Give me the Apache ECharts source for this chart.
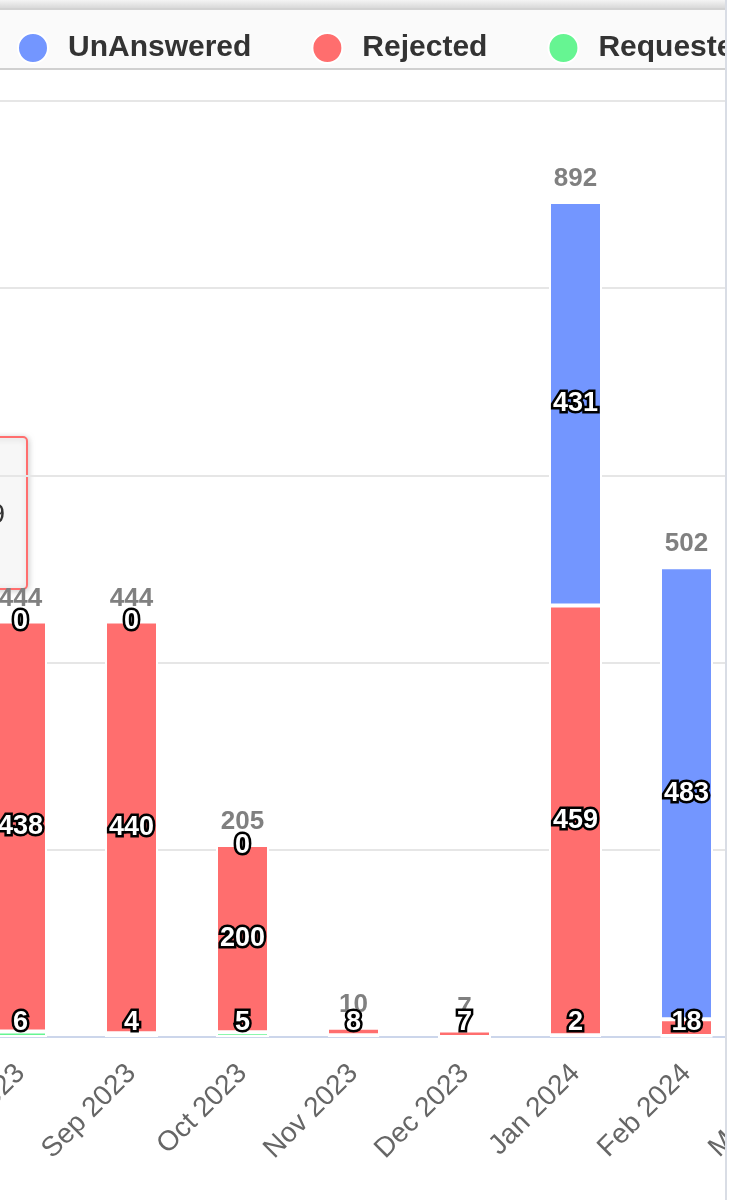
<!DOCTYPE html>
<html lang="en" style="height: 100%">
<head>
  <meta charset="utf-8">
</head>
<body style="height: 100%; margin: 0; background: #fff">
  <div id="wrap" style="position: relative; width: 725px; height: 1200px; overflow: hidden; border-right: 2px solid #d9dde5; background: #fff">
    <div id="container" style="position: absolute; left: -60px; top: 0; width: 914px; height: 1200px"></div>
  </div>

  <script type="text/javascript" src="https://fastly.jsdelivr.net/npm/echarts@6/dist/echarts.min.js"></script>
  <script type="text/javascript">
    var months = ['Aug 2023', 'Sep 2023', 'Oct 2023', 'Nov 2023', 'Dec 2023', 'Jan 2024', 'Feb 2024', 'Mar 2024'];
    var requested = [6, 4, 5, 2, 0, 2, 1, null];
    var rejected = [438, 440, 200, 8, 7, 459, 18, null];
    var unanswered = [0, 0, 0, 0, 0, 431, 483, null];
    var legendNames = ['UnAnswered', 'Rejected', 'Requested'];

    var totals = months.map(function (m, i) {
      if (unanswered[i] == null) return null;
      return unanswered[i] + rejected[i] + requested[i];
    });

    var dom = document.getElementById('container');
    var myChart = echarts.init(dom, null, { renderer: 'canvas' });

    var AXIS_Y = 1037;
    var FONT = 'Liberation Sans, Arial, sans-serif';

    // keep labels of tiny bars just above the axis, hide the ones that collide
    function labelLayout(params) {
      var r = params.labelRect;
      var cy = r.y + r.height / 2;
      var out = { hideOverlap: true };
      if (cy > AXIS_Y - 14) out.dy = AXIS_Y - 14 - cy;
      return out;
    }

    var dataLabel = {
      show: true,
      position: 'inside',
      fontFamily: FONT,
      fontSize: 27,
      fontWeight: 'bold',
      color: '#fff',
      textBorderColor: '#000',
      textBorderWidth: 5
    };

    function stackSeries(name, data, color) {
      return {
        name: name,
        type: 'bar',
        stack: 'all',
        barWidth: 53,
        barGap: '-100%',
        data: data,
        itemStyle: { color: color, borderColor: '#fff', borderWidth: 2 },
        label: dataLabel,
        labelLayout: labelLayout
      };
    }

    var option = {
      animation: false,
      color: ['#7396ff', '#ff6e6e', '#66f592'],
      legend: {
        data: legendNames,
        left: 72,
        top: 27,
        icon: 'circle',
        itemWidth: 60,
        itemHeight: 30,
        itemGap: 60,
        textStyle: { fontFamily: FONT, fontSize: 30, fontWeight: 'bold', color: '#333' }
      },
      graphic: [
        {
          type: 'rect', z: -1, silent: true,
          shape: { x: 60, y: 0, width: 725, height: 8 },
          style: { fill: new echarts.graphic.LinearGradient(0, 0, 0, 1, [
            { offset: 0, color: '#f4f4f4' }, { offset: 1, color: '#d9d9d9' }
          ]) }
        },
        { type: 'rect', z: -1, silent: true, shape: { x: 60, y: 8, width: 725, height: 2 }, style: { fill: '#d2d2d2' } },
        { type: 'rect', z: -1, silent: true, shape: { x: 60, y: 10, width: 725, height: 58 }, style: { fill: '#fafafa' } },
        { type: 'rect', z: -1, silent: true, shape: { x: 60, y: 68, width: 725, height: 2 }, style: { fill: '#d0d0d0' } },
        {
          type: 'group', z: 20, silent: true,
          children: [
            {
              type: 'rect',
              shape: { x: -40, y: 437, width: 127, height: 152, r: 4 },
              style: {
                fill: '#f7f7f7', stroke: '#ff6e6e', lineWidth: 2,
                shadowBlur: 6, shadowOffsetX: 1, shadowOffsetY: 1, shadowColor: 'rgba(0,0,0,0.18)'
              }
            },
            {
              type: 'text',
              style: { text: '9', x: 65, y: 515, align: 'right', verticalAlign: 'middle', font: '28px ' + FONT, fill: '#333' }
            }
          ]
        }
      ],
      grid: { left: 25, right: 1, top: 101, bottom: 1200 - AXIS_Y, outerBoundsMode: 'none', containLabel: false },
      xAxis: {
        type: 'category',
        data: months,
        axisLine: { lineStyle: { color: '#ccd6eb', width: 2 } },
        axisTick: { length: 22, lineStyle: { color: '#ccd6eb', width: 2 } },
        axisLabel: { interval: 0, rotate: 45, margin: 32, fontFamily: FONT, fontSize: 28, color: '#666' }
      },
      yAxis: {
        type: 'value',
        min: 0,
        max: 1000,
        interval: 200,
        axisLabel: { show: false },
        axisLine: { show: false },
        axisTick: { show: false },
        splitLine: { lineStyle: { color: '#e6e6e6', width: 2 } }
      },
      series: [
        stackSeries('Requested', requested, '#66f592'),
        stackSeries('Rejected', rejected, '#ff6e6e'),
        stackSeries('UnAnswered', unanswered, '#7396ff'),
        {
          name: 'Total',
          type: 'bar',
          z: 1,
          silent: true,
          barWidth: 53,
          barGap: '-100%',
          data: totals,
          itemStyle: { color: 'rgba(0,0,0,0)' },
          label: {
            show: true,
            position: 'top',
            distance: 10,
            fontFamily: FONT,
            fontSize: 26,
            fontWeight: 'bold',
            color: '#808080'
          }
        }
      ]
    };

    myChart.setOption(option);
    window.addEventListener('resize', myChart.resize);
  </script>
</body>
</html>
